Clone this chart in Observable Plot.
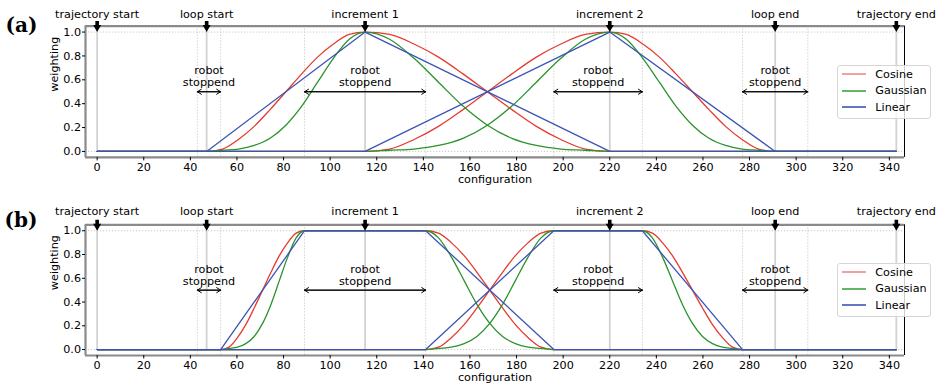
<!DOCTYPE html>
<html><head><meta charset="utf-8">
<script src="https://cdn.jsdelivr.net/npm/d3@7"></script>
<script src="https://cdn.jsdelivr.net/npm/@observablehq/plot@0.6"></script>
<style>
body{margin:0;background:#fff;}
#wrap{position:relative;width:939px;height:385px;overflow:hidden;background:#fff;}
.panel{position:absolute;left:0;}
.legend{position:absolute;box-sizing:border-box;border:1px solid #d6d6d6;border-radius:3px;background:rgba(255,255,255,0.8);font:11.2px "DejaVu Sans",sans-serif;color:#000;}
</style></head><body><div id="wrap"></div>
<script>
// ---------------- data ----------------
const eventNames = ["trajectory start", "loop start", "increment 1", "increment 2", "loop end", "trajectory end"];
const eventX = [0, 47, 115, 220, 291, 343];
const stopStart = [43, 89, 196, 277];
const stopEnd = [53, 141, 234, 305];
const stopLabel = "robot\nstoppend";
const arrowLevel = 0.5;
const peakWeight = 1;

const seriesNames = ["Cosine", "Gaussian", "Linear"];
const seriesColors = ["#e53b2f", "#2b932b", "#3c54b4"];
const legendColors = ["#f08a82", "#3fa33f", "#3c54b4"];

// transition shapes (normalised position -> weight)
const profileT = [0, 0.1, 0.2, 0.3, 0.4, 0.5, 0.6, 0.7, 0.8, 0.9, 1];
const cosineProfile = [0, 0.02, 0.1, 0.21, 0.35, 0.5, 0.65, 0.79, 0.9, 0.98, 1];
const gaussianProfile = [0, 0.01, 0.02, 0.05, 0.11, 0.22, 0.38, 0.58, 0.78, 0.94, 1];
const linearT = [0, 1];
const linearProfile = [0, 1];

// rise / fall intervals of the weighting of increment 1 and increment 2
const risesA = [[47, 115], [115, 220]];
const fallsA = [[115, 220], [220, 291]];
const risesB = [[53, 89], [141, 196]];
const fallsB = [[141, 196], [234, 277]];

const xTicks = [0, 20, 40, 60, 80, 100, 120, 140, 160, 180, 200, 220, 240, 260, 280, 300, 320, 340];
const yTicks = [0, 0.2, 0.4, 0.6, 0.8, 1.0];
const xDomain = [-5, 346.5];
const yDomain = [-0.05, 1.05];

// ---------------- build tables ----------------
function buildLines(rises, falls) {
  const rows = [];
  const profiles = [[profileT, cosineProfile], [profileT, gaussianProfile], [linearT, linearProfile]];
  seriesNames.forEach((name, si) => {
    const [t, v] = profiles[si];
    rises.forEach((r, k) => {
      const f = falls[k];
      const key = name + k;
      const pts = [[eventX[0], 0]];
      t.forEach((tt, i) => pts.push([r[0] + tt * (r[1] - r[0]), v[i]]));
      t.forEach((tt, i) => pts.push([f[0] + tt * (f[1] - f[0]), v[v.length - 1 - i]]));
      pts.push([eventX[eventX.length - 1], 0]);
      let lastX = null;
      pts.forEach(([x, y]) => {
        if (lastX !== null && Math.abs(x - lastX) < 1e-9) return;
        lastX = x;
        rows.push({series: name, key, x, y});
      });
    });
  });
  return rows;
}

const events = eventNames.map((n, i) => ({name: n, x: eventX[i], y: peakWeight}));
const stops = stopStart.map((s, i) => ({s, e: stopEnd[i], m: (s + stopEnd[i]) / 2, y: arrowLevel, label: stopLabel}));

const downArrow = {
  draw(ctx) {
    ctx.moveTo(0, 0);
    ctx.lineTo(-4, -7);
    ctx.lineTo(-1.8, -7);
    ctx.lineTo(-1.8, -11);
    ctx.lineTo(1.8, -11);
    ctx.lineTo(1.8, -7);
    ctx.lineTo(4, -7);
    ctx.closePath();
  }
};

function panel({rises, falls, height, marginTop, marginBottom, tag, tagDx, tagDy, labelDy}) {
  const lines = buildLines(rises, falls);
  const dotted = {stroke: "#c4c4c4", strokeDasharray: "1.2,1.8", strokeWidth: 0.9};
  const lw = 1.3;
  return Plot.plot({
    width: 939, height, marginLeft: 85, marginRight: 35, marginTop, marginBottom,
    style: {fontFamily: '"DejaVu Sans", sans-serif', fontSize: "11.2px", background: "transparent", color: "black", overflow: "visible"},
    x: {domain: xDomain},
    y: {domain: yDomain},
    marks: [
      Plot.ruleY([0, 1], dotted),
      Plot.ruleX([...stopStart, ...stopEnd], dotted),
      Plot.ruleX(events, {x: "x", y1: 0, y2: yDomain[1], stroke: "#d2d2d2", strokeWidth: 1.8}),
      Plot.line(lines.filter(d => d.series === "Cosine"), {x: "x", y: "y", z: "key", stroke: seriesColors[0], strokeWidth: lw, curve: "monotone-x"}),
      Plot.line(lines.filter(d => d.series === "Gaussian"), {x: "x", y: "y", z: "key", stroke: seriesColors[1], strokeWidth: lw, curve: "monotone-x"}),
      Plot.line(lines.filter(d => d.series === "Linear"), {x: "x", y: "y", z: "key", stroke: seriesColors[2], strokeWidth: lw, curve: "linear"}),
      Plot.ruleY([yDomain[0], yDomain[1]], {stroke: "#8a8a8a", strokeWidth: 2.2}),
      Plot.ruleX([xDomain[0]], {stroke: "#8a8a8a", strokeWidth: 2.2}),
      Plot.ruleX([xDomain[1]], {stroke: "black", strokeWidth: 1}),
      Plot.axisX(xTicks, {tickSize: 3.5, tickPadding: 1.8, label: null}),
      Plot.axisY(yTicks, {tickSize: 3, tickPadding: 1.5, tickFormat: ".1f", label: null}),
      Plot.text(["configuration"], {text: d => d, frameAnchor: "bottom", dy: 25.8, lineAnchor: "bottom"}),
      Plot.text(["weighting"], {text: d => d, frameAnchor: "left", dx: -27.2, rotate: -90, lineAnchor: "bottom"}),
      Plot.arrow(stops, {x1: "s", x2: "e", y1: "y", y2: "y", stroke: "black", strokeWidth: 1, headLength: 7, headAngle: 65}),
      Plot.arrow(stops, {x1: "e", x2: "s", y1: "y", y2: "y", stroke: "black", strokeWidth: 1, headLength: 7, headAngle: 65}),
      Plot.text(stops, {x: "m", y: "y", text: "label", lineAnchor: "bottom", dy: -5.3, lineHeight: 1.07}),
      Plot.text(events, {x: "x", text: "name", frameAnchor: "top", dy: labelDy, lineAnchor: "bottom"}),
      Plot.dot(events, {x: "x", y: "y", symbol: downArrow, r: 4, fill: "black", stroke: "none"}),
      Plot.text([tag], {text: d => d, frameAnchor: "top-left", dx: tagDx, dy: tagDy, textAnchor: "start", lineAnchor: "bottom", fontFamily: '"DejaVu Serif", serif', fontWeight: "bold", fontSize: 20})
    ]
  });
}

function legend(top) {
  const div = document.createElement("div");
  div.className = "legend";
  Object.assign(div.style, {left: "837px", top: top + "px", width: "94px", height: "54px"});
  seriesNames.forEach((n, i) => {
    const row = document.createElement("div");
    row.style.cssText = `position:absolute;left:4.3px;top:${1 + i * 16.7}px;height:14px;display:flex;align-items:center;white-space:nowrap;`;
    row.innerHTML = `<svg width="24" height="14" style="display:block"><line x1="0" x2="24" y1="7" y2="7" stroke="${legendColors[i]}" stroke-width="1.6"/></svg><span style="margin-left:9px">${n}</span>`;
    div.appendChild(row);
  });
  return div;
}

const wrap = document.getElementById("wrap");
const a = panel({rises: risesA, falls: fallsA, height: 192, marginTop: 25.6, marginBottom: 35.1, tag: "(a)", tagDx: -80, tagDy: 5.9, labelDy: -8.1});
a.classList.add("panel"); a.style.top = "0px";
const b = panel({rises: risesB, falls: fallsB, height: 193, marginTop: 32.3, marginBottom: 30, tag: "(b)", tagDx: -81, tagDy: 2.4, labelDy: -10});
b.classList.add("panel"); b.style.top = "192px";
wrap.appendChild(a);
wrap.appendChild(b);
wrap.appendChild(legend(65));
wrap.appendChild(legend(263));
</script>
</body></html>
